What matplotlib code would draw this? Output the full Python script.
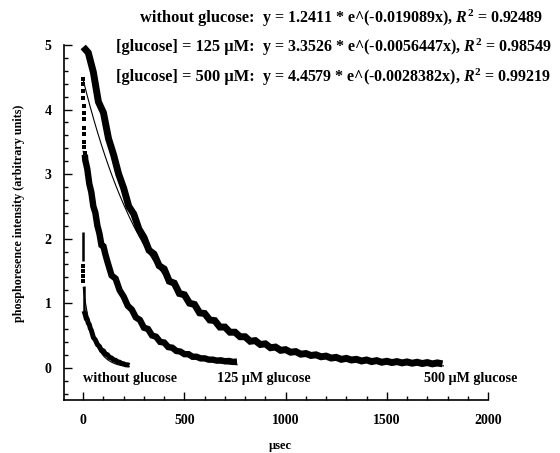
import matplotlib
matplotlib.use('Agg')
import matplotlib.pyplot as plt
import numpy as np
from matplotlib.ticker import MultipleLocator

# fit parameters shown on the chart
names = ['without glucose:', '[glucose] = 125 \u00b5M:', '[glucose] = 500 \u00b5M:']
amp = [1.2411, 3.3526, 4.4579]
rate = [0.019089, 0.0056447, 0.0028382]
r2 = [0.92489, 0.98549, 0.99219]
fit_end = [228, 760, 1780]

# without glucose: early vertical column + decay band
wo_seg_x = [0, 2]
wo_seg_lo = [1.66, 0.88]
wo_seg_hi = [2.10, 1.26]
wo_dot_x = [1, 1, 1, 1]
wo_dot_y = [1.58, 1.50, 1.42, 1.34]
wo_x = [4, 10, 15, 20, 25, 30, 35, 40, 50, 60, 70, 80, 90, 100, 110, 120,
        130, 140, 150, 160, 170, 180, 190, 200, 210, 220, 228]
wo_y = [0.88, 0.82, 0.76, 0.75, 0.69, 0.67, 0.61, 0.58, 0.47, 0.43, 0.36, 0.33,
        0.27, 0.26, 0.21, 0.20, 0.16, 0.15, 0.12, 0.115, 0.09, 0.085, 0.065,
        0.06, 0.045, 0.045, 0.035]

# 125 uM glucose
g125_dot_x = [0, 0, 1, 1, 2, 2, 3, 4, 4, 5, 6, 7]
g125_dot_y = [4.48, 4.40, 4.28, 4.18, 4.05, 3.95, 3.85, 3.72, 3.62, 3.50, 3.42, 3.33]
g125_x = [8, 10, 20, 30, 40, 50, 60, 70, 80, 90, 100, 110, 120,
          140, 160, 180, 200, 220, 240, 260, 280, 300, 320, 340, 360, 380, 400,
          420, 440, 460, 480, 500, 520, 540, 560, 580, 600, 620, 640, 660, 680,
          700, 720, 740, 760]
g125_y = [3.30, 3.22, 3.08, 2.85, 2.72, 2.50, 2.40, 2.20, 2.08, 1.90, 1.88, 1.75, 1.64,
          1.43, 1.38, 1.20, 1.10, 0.96, 0.90, 0.78, 0.74, 0.62, 0.60, 0.50, 0.48,
          0.40, 0.39, 0.32, 0.31, 0.26, 0.25, 0.21, 0.21, 0.17, 0.17, 0.145, 0.145,
          0.125, 0.125, 0.11, 0.115, 0.10, 0.105, 0.09, 0.095]

# 500 uM glucose, read every 25 usec
g500_x = np.arange(0, 1800, 25)
g500_y = [4.97, 4.88, 4.58, 4.12, 3.95, 3.55, 3.30, 3.00,
          2.78, 2.50, 2.38, 2.15, 2.02, 1.82, 1.76, 1.58,
          1.53, 1.34, 1.31, 1.15, 1.13, 1.00, 0.98, 0.85,
          0.84, 0.74, 0.73, 0.63, 0.63, 0.55, 0.55, 0.48,
          0.48, 0.41, 0.42, 0.36, 0.37, 0.31, 0.32, 0.27,
          0.28, 0.24, 0.25, 0.21, 0.22, 0.19, 0.20, 0.17,
          0.18, 0.15, 0.16, 0.13, 0.145, 0.12, 0.13, 0.105,
          0.12, 0.095, 0.11, 0.085, 0.10, 0.08, 0.095, 0.075,
          0.09, 0.07, 0.085, 0.065, 0.08, 0.06, 0.075, 0.06]

bottom_labels = ['without glucose', '125 \u00b5M glucose', '500 \u00b5M glucose']
bottom_label_x = [0, 660, 1684]

plt.rcParams['font.family'] = 'Liberation Serif'
plt.rcParams['font.weight'] = 'bold'
plt.rcParams['mathtext.fontset'] = 'custom'
plt.rcParams['mathtext.it'] = 'Liberation Serif:italic:bold'
plt.rcParams['mathtext.rm'] = 'Liberation Serif:bold'

W, H = 560, 453
fig = plt.figure(figsize=(W / 100, H / 100), dpi=100)
ax = fig.add_axes([64 / W, 1 - 400 / H, (488 - 64) / W, (400 - 45) / H])

band = dict(color='black', solid_joinstyle='miter', solid_capstyle='butt', clip_on=False)
ax.plot(g500_x, g500_y, lw=5.0, **band)
ax.plot(g125_x, g125_y, lw=4.6, **band)
ax.plot(wo_x, wo_y, lw=3.6, **band)
ax.vlines(wo_seg_x, wo_seg_lo, wo_seg_hi, color='black', lw=1.8)
ax.scatter(wo_dot_x, wo_dot_y, marker='s', s=5, color='black', lw=0)
ax.scatter(g125_dot_x, g125_dot_y, marker='s', s=7, color='black', lw=0)

# fit curves
for a, k, xe in zip(amp, rate, fit_end):
    xx = np.linspace(0, xe, 300)
    ax.plot(xx, a * np.exp(-k * xx), color='black', lw=0.8)

ax.set_xlim(-95, 2000)
ax.set_ylim(-0.5, 5)
for s in ['top', 'right']:
    ax.spines[s].set_visible(False)
for s in ['left', 'bottom']:
    ax.spines[s].set_linewidth(1.2)
ax.xaxis.set_major_locator(MultipleLocator(500))
ax.xaxis.set_minor_locator(MultipleLocator(100))
ax.yaxis.set_major_locator(MultipleLocator(1))
ax.yaxis.set_minor_locator(MultipleLocator(0.2))
ax.tick_params(which='both', direction='in', width=1)
ax.tick_params(which='major', length=6)
ax.tick_params(which='minor', length=3)
ax.tick_params(axis='x', which='major', pad=10, labelsize=10)
ax.tick_params(axis='y', which='major', pad=9, labelsize=10)
for lab in ax.get_xticklabels() + ax.get_yticklabels():
    lab.set_fontweight('bold')

fig.text(280 / W, 1 - 446 / H, '\u00b5sec', fontsize=9, fontweight='bold',
         ha='center', va='center')
fig.text(19 / W, 1 - 213 / H, 'phosphoresence intensity (arbitrary units)',
         fontsize=8.7, fontweight='bold', rotation=90, ha='center', va='center')

for lab, lx in zip(bottom_labels, bottom_label_x):
    ax.text(lx, -0.17, lab, fontsize=10.2, fontweight='bold', va='center', ha='left')

ys = [18, 47, 77]
for name, a, k, r, yy in zip(names, amp, rate, r2, ys):
    fig.text(255 / W, 1 - yy / H, name, fontsize=11.8, fontweight='bold',
             ha='right', va='center')
    eq = 'y = %s * e^(-%s' % (a, k) + 'x), $R^2$ = %s' % r
    fig.text(262 / W, 1 - yy / H, eq, fontsize=11.5, fontweight='bold',
             ha='left', va='center')

fig.savefig('out.png', dpi=100)
